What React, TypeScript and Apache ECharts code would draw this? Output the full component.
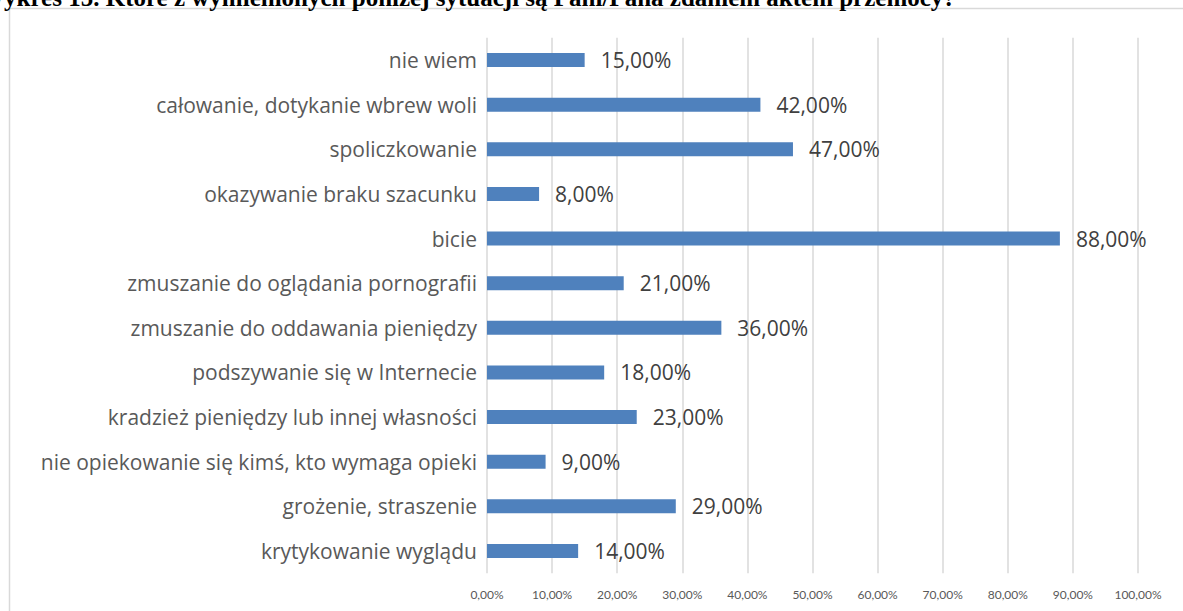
import React, { useEffect, useRef } from "react";
import * as echarts from "echarts";

const titleText = "Wykres 15. Które z wymienionych poniżej sytuacji są Pani/Pana zdaniem aktem przemocy?";

const categories = [
  "nie wiem",
  "całowanie, dotykanie wbrew woli",
  "spoliczkowanie",
  "okazywanie braku szacunku",
  "bicie",
  "zmuszanie do oglądania pornografii",
  "zmuszanie do oddawania pieniędzy",
  "podszywanie się w Internecie",
  "kradzież pieniędzy lub innej własności",
  "nie opiekowanie się kimś, kto wymaga opieki",
  "grożenie, straszenie",
  "krytykowanie wyglądu",
];

const values = [0.15, 0.42, 0.47, 0.08, 0.88, 0.21, 0.36, 0.18, 0.23, 0.09, 0.29, 0.14];

const fmt = (v: number) => (v * 100).toFixed(2).replace(".", ",") + "%";

export default function App() {
  const ref = useRef<HTMLDivElement>(null);
  useEffect(() => {
    if (!ref.current) return;
    const chart = echarts.init(ref.current, undefined, { renderer: "svg" });
    chart.setOption({
      animation: false,
      backgroundColor: "#ffffff",
      textStyle: { fontFamily: "Open Sans" },
      graphic: [
        {
          type: "rect",
          shape: { x: 9.5, y: 8.5, width: 1300, height: 800 },
          style: { fill: "none", stroke: "#d9d9d9", lineWidth: 1.5 },
          silent: true,
        },
        {
          type: "text",
          x: -20,
          y: 10,
          style: {
            text: titleText,
            fill: "#000000",
            font: "bold 25px 'Liberation Serif', 'Times New Roman', serif",
            verticalAlign: "bottom",
          },
          silent: true,
        },
      ],
      grid: { left: 487, right: 45, top: 37.7, bottom: 37.7, containLabel: false },
      xAxis: {
        type: "value",
        min: 0,
        max: 1,
        interval: 0.1,
        axisLine: { show: false },
        axisTick: { show: false },
        splitLine: { show: true, lineStyle: { color: "#d9d9d9", width: 1.5 } },
        axisLabel: {
          formatter: (v: number) => fmt(v),
          color: "#595959",
          fontSize: 12,
          fontFamily: "Lato",
          margin: 15,
        },
      },
      yAxis: {
        type: "category",
        data: categories,
        inverse: true,
        axisLine: { show: false },
        axisTick: { show: false },
        splitLine: { show: false },
        axisLabel: { color: "#595959", fontSize: 21, fontFamily: "Open Sans", margin: 10 },
      },
      series: [
        {
          type: "bar",
          data: values,
          barWidth: 14,
          itemStyle: { color: "#4f81bd" },
          label: {
            show: true,
            position: "right",
            distance: 16,
            formatter: (p: any) => fmt(p.value),
            color: "#404040",
            fontSize: 21,
            fontFamily: "Open Sans",
          },
        },
      ],
    });
    return () => chart.dispose();
  }, []);
  return (
    <div
      ref={ref}
      style={{ position: "fixed", left: 0, top: 0, width: 1183, height: 611 }}
    />
  );
}
